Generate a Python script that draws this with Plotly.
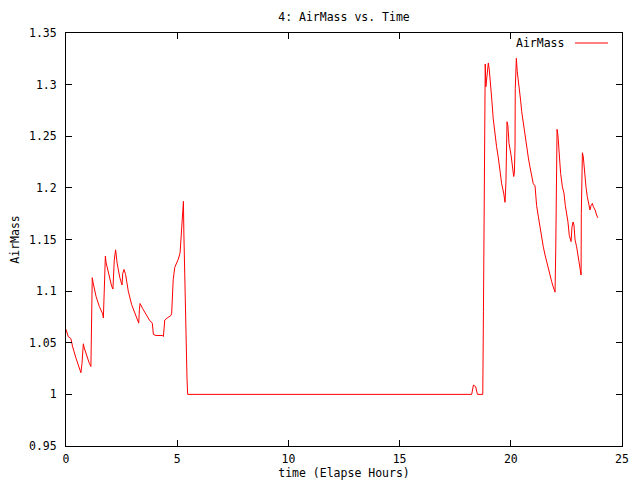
import plotly.graph_objects as go

# Elapsed time (hours)
time_hours = [
    0.00, 0.10, 0.22, 0.30, 0.45, 0.58, 0.67, 0.72, 0.78, 0.82, 0.95, 1.05, 1.12,
    1.15, 1.18, 1.22, 1.35, 1.50, 1.65, 1.68, 1.72, 1.74, 1.77, 1.80, 1.95, 2.05,
    2.11, 2.17, 2.23, 2.30, 2.42, 2.52, 2.55, 2.61, 2.68, 2.80, 2.95, 3.10, 3.20,
    3.27, 3.30, 3.33, 3.45, 3.60, 3.75, 3.88, 3.93, 4.05, 4.20, 4.35, 4.38, 4.44,
    4.55, 4.70, 4.75, 4.82, 4.89, 5.05, 5.13, 5.19, 5.25, 5.28, 5.30, 5.35, 5.40,
    5.44, 5.47,
    18.24, 18.32, 18.42, 18.50, 18.74, 18.77, 18.81, 18.85, 18.88, 18.93, 18.99,
    19.03, 19.08, 19.14, 19.21, 19.29, 19.36, 19.44, 19.51, 19.59, 19.68, 19.74,
    19.78, 19.83, 19.87, 19.92, 20.01, 20.07, 20.13, 20.16, 20.19, 20.20, 20.25,
    20.29, 20.34, 20.38, 20.44, 20.49, 20.56, 20.64, 20.71, 20.79, 20.86, 20.94,
    21.01, 21.09, 21.16, 21.24, 21.31, 21.39, 21.46, 21.54, 21.61, 21.69, 21.76,
    21.84, 21.91, 21.99, 22.02, 22.05, 22.08, 22.12, 22.18, 22.24, 22.32, 22.39,
    22.45, 22.51, 22.57, 22.63, 22.71, 22.75, 22.80, 22.84, 22.89, 22.96, 23.01,
    23.05, 23.11, 23.16, 23.17, 23.22, 23.26, 23.31, 23.38, 23.44, 23.52, 23.56,
    23.61, 23.67, 23.71, 23.79, 23.86, 23.91,
]

# Air mass values
airmass = [
    1.063, 1.056, 1.054, 1.046, 1.035, 1.026, 1.021, 1.030, 1.049, 1.045, 1.036, 1.030, 1.027,
    1.070, 1.113, 1.108, 1.095, 1.085, 1.078, 1.074, 1.100, 1.119, 1.134, 1.128, 1.112, 1.105,
    1.102, 1.130, 1.140, 1.127, 1.113, 1.106, 1.117, 1.121, 1.116, 1.100, 1.087, 1.078, 1.073,
    1.069, 1.082, 1.088, 1.083, 1.077, 1.072, 1.069, 1.058, 1.057, 1.057, 1.057, 1.056, 1.072,
    1.074, 1.076, 1.078, 1.111, 1.123, 1.131, 1.137, 1.156, 1.175, 1.187, 1.156, 1.091, 1.045,
    1.016, 1.000,
    1.000, 1.009, 1.0075, 1.000, 1.000, 1.080, 1.240, 1.320, 1.298, 1.311, 1.321,
    1.315, 1.305, 1.287, 1.267, 1.251, 1.240, 1.229, 1.216, 1.204, 1.195, 1.186,
    1.205, 1.264, 1.260, 1.243, 1.232, 1.219, 1.211, 1.214, 1.240, 1.296, 1.3255,
    1.3125, 1.3045, 1.296, 1.285, 1.274, 1.2625, 1.251, 1.240, 1.229, 1.2205, 1.211,
    1.204, 1.202, 1.183, 1.172, 1.162, 1.151, 1.143, 1.135, 1.1285, 1.122, 1.1156,
    1.109, 1.104, 1.099, 1.138, 1.217, 1.2567, 1.251, 1.230, 1.214, 1.201, 1.195,
    1.183, 1.175, 1.167, 1.154, 1.148, 1.162, 1.167, 1.164, 1.1495, 1.143, 1.1366,
    1.130, 1.1237, 1.1156, 1.175, 1.234, 1.230, 1.216, 1.201, 1.1915, 1.183, 1.1786,
    1.183, 1.185, 1.1818, 1.1786, 1.1737, 1.171,
]

x_ticks = [0, 5, 10, 15, 20, 25]
y_ticks = [0.95, 1.0, 1.05, 1.1, 1.15, 1.2, 1.25, 1.3, 1.35]
y_tick_labels = ["0.95", "1", "1.05", "1.1", "1.15", "1.2", "1.25", "1.3", "1.35"]

FONT = "DejaVu Sans Mono"
FS = 11.5

# the page body adds an 8px margin, so the figure is sized to fit the window
OFF = 8
W, H = 640 - OFF, 480 - OFF

fig = go.Figure()
fig.add_trace(go.Scatter(
    x=time_hours, y=airmass, mode="lines", name="AirMass",
    line=dict(color="#ff0000", width=1), showlegend=False,
))

axis_common = dict(
    showline=True, linecolor="black", linewidth=1, mirror="ticks",
    ticks="inside", ticklen=6, tickcolor="black", tickwidth=1,
    showgrid=False, zeroline=False,
    tickfont=dict(family=FONT, size=FS, color="black"),
)

fig.update_layout(
    width=W, height=H,
    margin=dict(l=66 - OFF, r=640 - 622, t=33 - OFF, b=480 - 446, autoexpand=False),
    paper_bgcolor="white", plot_bgcolor="white",
    font=dict(family=FONT, size=FS, color="black"),
    title=dict(text="4: AirMass vs. Time", x=(344 - OFF) / W, xanchor="center",
               y=1 - (17 - OFF) / H, yanchor="middle", yref="container",
               font=dict(family=FONT, size=FS, color="black")),
    xaxis=dict(range=[0, 25], tickvals=x_ticks,
               title=dict(text="time (Elapse Hours)", standoff=5,
                          font=dict(family=FONT, size=FS, color="black")),
               ticklabelstandoff=2, automargin=False, **axis_common),
    yaxis=dict(range=[0.95, 1.35], tickvals=y_ticks, ticktext=y_tick_labels,
               title=dict(text="AirMass", standoff=12,
                          font=dict(family=FONT, size=FS, color="black")),
               ticklabelstandoff=6, automargin=False, **axis_common),
    annotations=[dict(text="AirMass", xref="paper", yref="paper",
                      x=(566 - 66) / 556, y=(446 - 43) / 413,
                      xanchor="right", yanchor="middle", showarrow=False,
                      font=dict(family=FONT, size=FS, color="black"))],
    shapes=[dict(type="line", xref="paper", yref="paper",
                 x0=(575 - 66) / 556, x1=(608 - 66) / 556,
                 y0=(446 - 43) / 413, y1=(446 - 43) / 413,
                 line=dict(color="#ff0000", width=1))],
)

fig.write_html("out.html")
